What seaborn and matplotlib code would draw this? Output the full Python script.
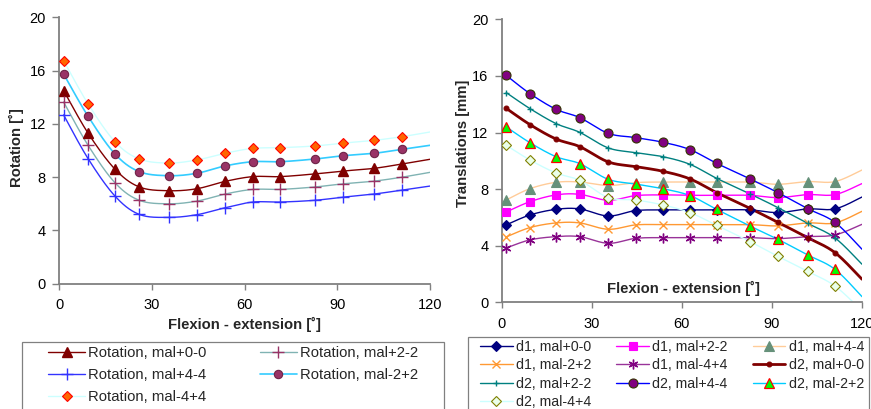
import numpy as np
import matplotlib
matplotlib.use("Agg")
import matplotlib.pyplot as plt
import seaborn as sns
from matplotlib.lines import Line2D
from matplotlib.patches import Rectangle

# ---------------- data ----------------
# flexion angles (last point = line end at 120, no marker)
flexion = [1.5, 9.4, 18.1, 26.0, 35.5, 44.6, 53.7, 62.7, 71.6, 82.7, 92.0, 101.9, 111.0, 120.0]

rot_mal_00 = [14.5, 11.3, 8.6, 7.26, 6.98, 7.13, 7.68, 8.04, 8.04, 8.24, 8.46, 8.66, 8.99, 9.34]
rot_mal_p22 = [13.64, 10.39, 7.58, 6.26, 6.0, 6.2, 6.73, 7.08, 7.08, 7.26, 7.5, 7.7, 8.0, 8.36]
rot_mal_p44 = [12.67, 9.39, 6.58, 5.2, 4.98, 5.18, 5.7, 6.13, 6.13, 6.26, 6.5, 6.73, 7.03, 7.33]
rot_mal_m22 = [15.74, 12.57, 9.74, 8.41, 8.11, 8.29, 8.84, 9.16, 9.16, 9.36, 9.61, 9.79, 10.09, 10.39]
rot_mal_m44 = [16.75, 13.5, 10.66, 9.36, 9.06, 9.29, 9.79, 10.16, 10.21, 10.34, 10.56, 10.76, 11.04, 11.39]

d1_mal_00 = [5.47, 6.17, 6.57, 6.6, 6.1, 6.48, 6.53, 6.53, 6.53, 6.53, 6.34, 6.6, 6.6, 7.44]
d1_mal_p22 = [6.38, 7.11, 7.59, 7.63, 7.21, 7.54, 7.59, 7.56, 7.56, 7.56, 7.4, 7.61, 7.61, 8.39]
d1_mal_p44 = [7.23, 8.03, 8.48, 8.5, 8.25, 8.46, 8.5, 8.5, 8.5, 8.5, 8.34, 8.53, 8.53, 9.35]
d1_mal_m22 = [4.62, 5.28, 5.61, 5.61, 5.16, 5.47, 5.49, 5.49, 5.49, 5.49, 5.4, 5.61, 5.61, 6.43]
d1_mal_m44 = [3.84, 4.41, 4.64, 4.64, 4.17, 4.52, 4.57, 4.57, 4.57, 4.57, 4.5, 4.64, 4.76, 5.51]
d2_mal_00 = [13.71, 12.56, 11.54, 11.0, 9.92, 9.59, 9.26, 8.72, 7.75, 6.64, 5.65, 4.57, 3.51, 1.63]
d2_mal_p22 = [14.82, 13.69, 12.63, 12.01, 10.91, 10.58, 10.29, 9.75, 8.76, 7.66, 6.69, 5.58, 4.55, 2.69]
d2_mal_p44 = [16.04, 14.75, 13.64, 13.05, 11.94, 11.64, 11.31, 10.79, 9.82, 8.72, 7.75, 6.62, 5.65, 3.75]
d2_mal_m22 = [12.4, 11.28, 10.29, 9.8, 8.69, 8.36, 8.03, 7.54, 6.57, 5.39, 4.45, 3.35, 2.33, 0.4]
d2_mal_m44 = [11.1, 10.06, 9.14, 8.62, 7.4, 7.23, 6.88, 6.34, 5.44, 4.29, 3.25, 2.19, 1.15, -0.6]

x_ticks = [0, 30, 60, 90, 120]
y_ticks = [0, 4, 8, 12, 16, 20]

# ---------------- style ----------------
sns.set_style("white")
plt.rcParams["font.family"] = ["Liberation Sans", "DejaVu Sans"]

ASTER = (6, 2, 0)
TICK_FS = 10.5
LABEL_FS = 10.7

left_series = [
    ("Rotation, mal+0-0", rot_mal_00, dict(lc="#800000", lw=1.0, m="^", mfc="#800000", mec="#800000", ms=6.5, mew=1)),
    ("Rotation, mal+2-2", rot_mal_p22, dict(lc="#80b3b3", lw=1.0, m="+", mfc="#993366", mec="#993366", ms=8, mew=1)),
    ("Rotation, mal+4-4", rot_mal_p44, dict(lc="#3333ff", lw=1.0, m="+", mfc="#3333ff", mec="#3333ff", ms=8, mew=1)),
    ("Rotation, mal-2+2", rot_mal_m22, dict(lc="#33ccff", lw=1.2, m="o", mfc="#993366", mec="#6e2448", ms=6, mew=0.8)),
    ("Rotation, mal-4+4", rot_mal_m44, dict(lc="#ccffff", lw=1.0, m="D", mfc="#ff6600", mec="#ff0000", ms=5, mew=0.8)),
]
left_order = [0, 2, 4, 1, 3]

right_series = [
    ("d1, mal+0-0", d1_mal_00, dict(lc="#000080", lw=1.0, m="D", mfc="#000080", mec="#000080", ms=5, mew=0.8)),
    ("d1, mal+2-2", d1_mal_p22, dict(lc="#ff00ff", lw=1.0, m="s", mfc="#ff00ff", mec="#ff00ff", ms=6, mew=0.8)),
    ("d1, mal+4-4", d1_mal_p44, dict(lc="#ffcc99", lw=1.0, m="^", mfc="#66917a", mec="#66917a", ms=6.5, mew=0.8)),
    ("d1, mal-2+2", d1_mal_m22, dict(lc="#ff9933", lw=1.0, m="x", mfc="#ff9933", mec="#ff9933", ms=5.5, mew=1)),
    ("d1, mal-4+4", d1_mal_m44, dict(lc="#993399", lw=1.0, m=ASTER, mfc="#800080", mec="#800080", ms=7, mew=1)),
    ("d2, mal+0-0", d2_mal_00, dict(lc="#800000", lw=2.0, m="o", mfc="#800000", mec="#800000", ms=3.5, mew=0.8)),
    ("d2, mal+2-2", d2_mal_p22, dict(lc="#008080", lw=1.0, m="+", mfc="#008080", mec="#008080", ms=4, mew=1)),
    ("d2, mal+4-4", d2_mal_p44, dict(lc="#0000ff", lw=1.0, m="o", mfc="#800080", mec="#333300", ms=6.5, mew=0.8)),
    ("d2, mal-2+2", d2_mal_m22, dict(lc="#00ccff", lw=1.0, m="^", mfc="#00ff00", mec="#ff0000", ms=6.5, mew=0.9)),
    ("d2, mal-4+4", d2_mal_m44, dict(lc="#ccffff", lw=1.0, m="D", mfc="#eaffea", mec="#808000", ms=5, mew=0.8)),
]
right_order = [0, 3, 6, 9, 1, 4, 7, 2, 5, 8]


def smooth(x, y, n=24):
    """Excel-like smoothed line path (Bezier through the points)."""
    P = np.column_stack([np.asarray(x, float), np.asarray(y, float)])
    out = [P[0]]
    t = np.linspace(0, 1, n + 1)[1:, None]
    for i in range(len(P) - 1):
        p0 = P[i - 1] if i > 0 else P[i]
        p1, p2 = P[i], P[i + 1]
        p3 = P[i + 2] if i + 2 < len(P) else P[i + 1]
        c1 = p1 + (p2 - p0) / 6
        c2 = p2 - (p3 - p1) / 6
        seg = (1 - t) ** 3 * p1 + 3 * (1 - t) ** 2 * t * c1 + 3 * (1 - t) * t ** 2 * c2 + t ** 3 * p2
        out.extend(seg)
    out = np.array(out)
    return out[:, 0], out[:, 1]


def draw(ax, series):
    handles = []
    for label, vals, s in series:
        sx, sy = smooth(flexion, vals)
        sns.lineplot(x=sx, y=sy, sort=False, estimator=None, ax=ax,
                     color=s["lc"], lw=s["lw"], legend=False)
        ax.plot(flexion[:-1], vals[:-1], linestyle="none", marker=s["m"],
                mfc=s["mfc"], mec=s["mec"], ms=s["ms"], mew=s["mew"], zorder=3)
        handles.append(Line2D([], [], color=s["lc"], lw=s["lw"], marker=s["m"],
                              mfc=s["mfc"], mec=s["mec"], ms=s["ms"], mew=s["mew"]))
    return handles


def style_axes(ax):
    ax.set_xlim(0, 120)
    ax.set_ylim(0, 20)
    ax.set_xticks(x_ticks)
    ax.set_yticks(y_ticks)
    for sp in ["top", "right"]:
        ax.spines[sp].set_visible(False)
    for sp in ["left", "bottom"]:
        ax.spines[sp].set_color("#808080")
        ax.spines[sp].set_linewidth(1.3)
    ax.tick_params(axis="x", direction="out", length=4, width=1, color="#808080",
                   labelsize=TICK_FS, labelcolor="black", pad=6.5, bottom=True)
    ax.tick_params(axis="y", direction="out", length=5, width=1, color="#808080",
                   labelsize=TICK_FS, labelcolor="black", pad=4.5, left=True)
    ax.grid(False)


fig = plt.figure(figsize=(8.71, 4.09), dpi=100)
fig.patch.set_facecolor("white")

ax1 = fig.add_axes([59 / 871, 1 - 283.7 / 409, 371 / 871, 266.4 / 409])
ax2 = fig.add_axes([501.7 / 871, 1 - 302.3 / 409, 360.3 / 871, 283 / 409])

h1 = draw(ax1, left_series)
h2 = draw(ax2, right_series)
style_axes(ax1)
style_axes(ax2)

ax1.set_xlabel("Flexion - extension [˚]", fontsize=LABEL_FS, fontweight="bold")
ax1.xaxis.set_label_coords(0.5, -0.154)
ax1.xaxis.label.set_va("center")
ax1.set_ylabel("Rotation [˚]", fontsize=LABEL_FS, fontweight="bold")
ax1.yaxis.set_label_coords(-0.116, 0.51)
ax1.yaxis.label.set_va("center")

ax2.set_xlabel("Flexion - extension [˚]", fontsize=LABEL_FS, fontweight="bold")
ax2.xaxis.set_label_coords(0.505, 0.05)
ax2.xaxis.label.set_va("center")
ax2.set_ylabel("Translations [mm]", fontsize=LABEL_FS, fontweight="bold")
ax2.yaxis.set_label_coords(-0.1066, 0.563)
ax2.yaxis.label.set_va("center")

# legend frames
fig.patches.append(Rectangle((22 / 871, -0.2), (444 - 22) / 871, 1.2 - 342 / 409,
                             transform=fig.transFigure, fill=False, edgecolor="#808080", lw=0.9))
fig.patches.append(Rectangle((468 / 871, -0.2), (869 - 468) / 871, 1.2 - 337 / 409,
                             transform=fig.transFigure, fill=False, edgecolor="#808080", lw=0.9))

leg1 = fig.legend([h1[i] for i in left_order], [left_series[i][0] for i in left_order],
                  loc="upper left", bbox_to_anchor=(48 / 871, 1 - 346 / 409), ncol=2,
                  frameon=False, fontsize=10.7, borderpad=0, borderaxespad=0,
                  handlelength=2.49, handletextpad=0.2, columnspacing=3.6, labelspacing=0.54)
leg2 = fig.legend([h2[i] for i in right_order], [right_series[i][0] for i in right_order],
                  loc="upper left", bbox_to_anchor=(480 / 871, 1 - 340 / 409), ncol=3,
                  frameon=False, fontsize=10.2, borderpad=0, borderaxespad=0,
                  handlelength=2.3, handletextpad=0.25, columnspacing=1.75, labelspacing=0.3)

fig.savefig("out.png", dpi=100, facecolor="white")
